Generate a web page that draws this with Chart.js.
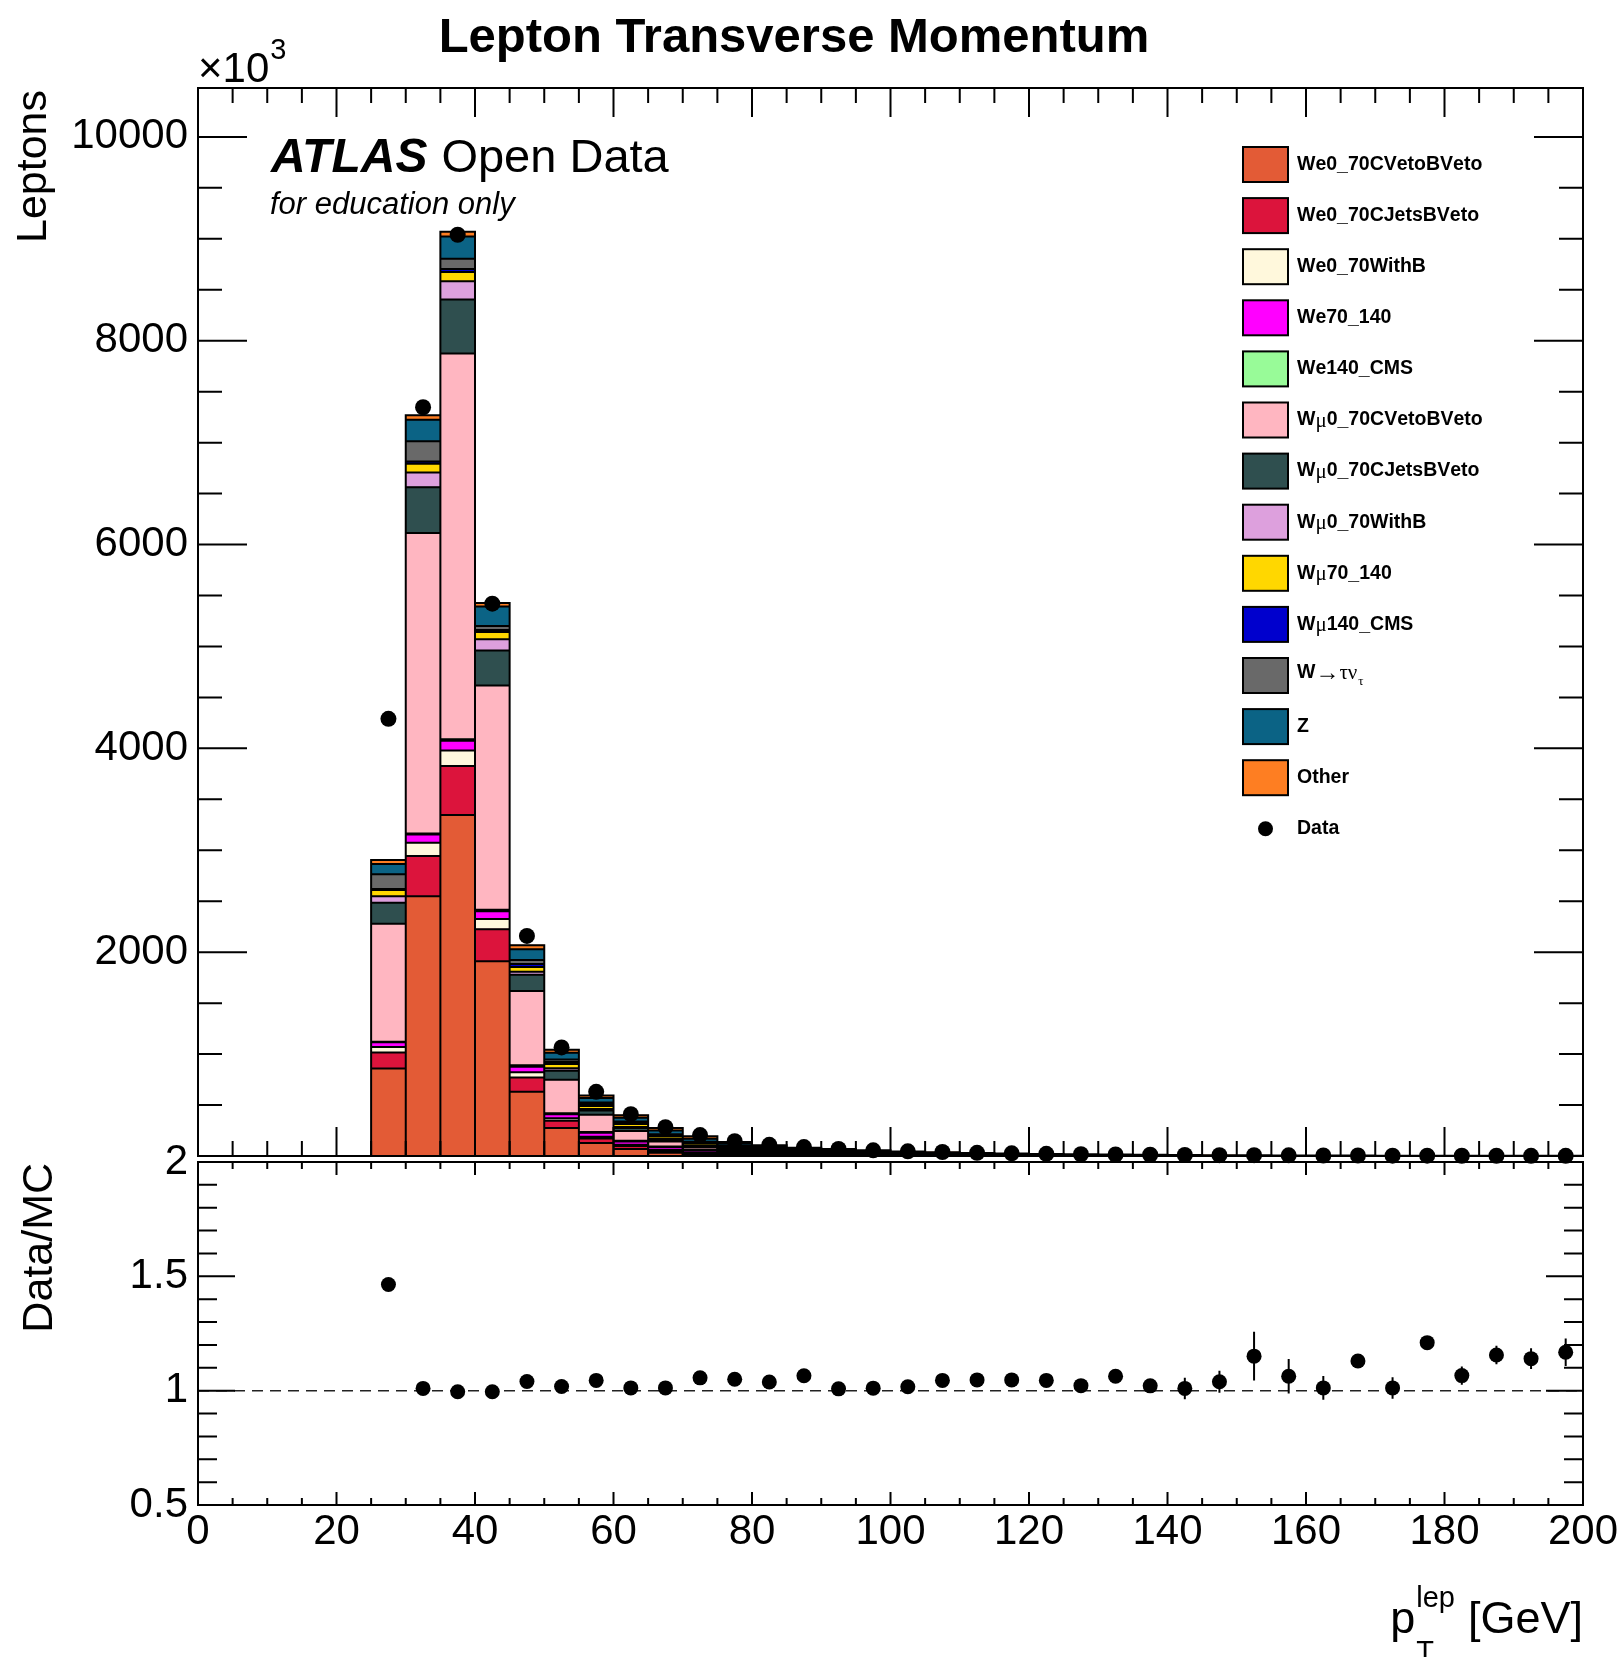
<!DOCTYPE html>
<html>
<head>
<meta charset="utf-8">
<title>Lepton Transverse Momentum</title>
<script src="https://cdn.jsdelivr.net/npm/chart.js@4.4.1/dist/chart.umd.min.js"></script>
<style>
  html, body { margin: 0; padding: 0; background: #ffffff; }
  #page { position: relative; width: 1624px; height: 1657px; overflow: hidden; }
  #page canvas { position: absolute; left: 0; top: 0; }
</style>
</head>
<body>
<div id="page">
  <canvas id="mainPad" width="1624" height="1657"></canvas>
  <canvas id="ratioPad" width="1624" height="1657"></canvas>
</div>
<script>
// ---- bins: 5 GeV wide, 0 to 200 GeV (bin centres) ----
const binCenters = [2.5, 7.5, 12.5, 17.5, 22.5, 27.5, 32.5, 37.5, 42.5, 47.5,
  52.5, 57.5, 62.5, 67.5, 72.5, 77.5, 82.5, 87.5, 92.5, 97.5,
  102.5, 107.5, 112.5, 117.5, 122.5, 127.5, 132.5, 137.5, 142.5, 147.5,
  152.5, 157.5, 162.5, 167.5, 172.5, 177.5, 182.5, 187.5, 192.5, 197.5];

// ---- axis labels ----
const countTicks = [2000, 4000, 6000, 8000, 10000];
const ratioTicks = [0.5, 1, 1.5, 2];
const ptTicks = [0, 20, 40, 60, 80, 100, 120, 140, 160, 180, 200];

// ---- simulated samples (leptons, x10^3), stacked bottom to top ----
const we0_70CVetoBVeto = [0,0,0,0,0, 859,2548,3347,1910,631, 275,127,68,32,16, 9,5,3,2,1.4,
  1,0.7,0.5,0.35,0.25, 0.2,0.15,0.1,0.08,0.06, 0.05,0.04,0.03,0.02,0.02, 0.01,0.01,0.01,0.01,0.01];
const we0_70CJetsBVeto = [0,0,0,0,0, 157,396,480,316,140, 70,45,30,18,10, 6,4,3,2,1.5,
  1.1,0.8,0.6,0.45,0.35, 0.25,0.2,0.15,0.12,0.1, 0.08,0.06,0.05,0.04,0.03, 0.03,0.02,0.02,0.01,0.01];
const we0_70WithB = [0,0,0,0,0, 53,130,153,100,50, 25,18,12,8,5, 3,2,1.5,1,0.8,
  0.6,0.5,0.4,0.3,0.25, 0.2,0.15,0.12,0.1,0.08, 0.07,0.06,0.05,0.04,0.03, 0.02,0.02,0.01,0.01,0.01];
const we70_140 = [0,0,0,0,0, 46,81,95,75,55, 40,38,32,28,24, 20,17,14,11.5,9.4,
  7.6,6.2,4.9,3.9,3.1, 2.5,2,1.6,1.3,1.05, 0.85,0.7,0.57,0.46,0.38, 0.31,0.25,0.2,0.17,0.14];
const we140_CMS = [0,0,0,0,0, 5,10,15,15,15, 10,8,8,7,6, 5,5,4.5,4,3.6,
  3.2,2.8,2.4,2.1,1.8, 1.6,1.4,1.25,1.1,0.98, 0.87,0.78,0.7,0.62,0.56, 0.5,0.44,0.39,0.35,0.31];
const wmu0_70CVetoBVeto = [0,0,0,0,0, 1158,2948,3784,2200,728, 327,170,95,50,25, 13,7,4,2.5,1.7,
  1.2,0.9,0.6,0.45,0.3, 0.22,0.16,0.12,0.09,0.07, 0.05,0.04,0.03,0.02,0.02, 0.01,0.01,0.01,0.01,0.01];
const wmu0_70CJetsBVeto = [0,0,0,0,0, 207,450,530,345,160, 90,40,30,20,12, 8,5,3,2,1.5,
  1.1,0.8,0.6,0.45,0.35, 0.28,0.22,0.17,0.13,0.1, 0.08,0.06,0.05,0.04,0.03, 0.03,0.02,0.02,0.01,0.01];
const wmu0_70WithB = [0,0,0,0,0, 63,143,180,110,30, 25,15,10,7,5, 3,2,1.5,1,0.7,
  0.5,0.4,0.3,0.25,0.2, 0.15,0.12,0.1,0.08,0.06, 0.05,0.04,0.03,0.02,0.02, 0.01,0.01,0.01,0.01,0.01];
const wmu70_140 = [0,0,0,0,0, 63,88,90,70,45, 40,30,28,25,22, 18,15,12,10,8.2,
  6.7,5.5,4.4,3.6,2.9, 2.4,1.95,1.6,1.3,1.05, 0.85,0.7,0.57,0.46,0.38, 0.31,0.25,0.2,0.17,0.14];
const wmu140_CMS = [0,0,0,0,0, 10,20,30,20,30, 20,15,13,11,10, 9,8,7,6,5.2,
  4.6,4,3.5,3.1,2.7, 2.4,2.1,1.85,1.6,1.4, 1.25,1.12,1,0.9,0.8, 0.72,0.64,0.57,0.51,0.46];
const wTauNu = [0,0,0,0,0, 143,200,100,40,40, 25,18,12,8,5, 3,2,1.5,1,0.8,
  0.6,0.5,0.4,0.3,0.25, 0.2,0.15,0.12,0.1,0.08, 0.07,0.06,0.05,0.04,0.03, 0.03,0.02,0.02,0.01,0.01];
const zBoson = [0,0,0,0,0, 102,210,220,190,105, 65,45,38,35,30, 22,18,14.5,13.5,10.8,
  8.8,7.2,5.8,4.9,4, 3.3,2.7,2.25,1.85,1.5, 1.25,1.02,0.85,0.7,0.58, 0.49,0.4,0.34,0.29,0.24];
const otherBkg = [0,0,0,0,0, 39,45,45,35,40, 30,25,25,25,23, 18,15,12.5,12,9.8,
  8.3,7.1,5.6,4.85,4.05, 3.3,2.7,2.32,1.95,1.67, 1.38,1.12,0.92,0.74,0.62, 0.53,0.41,0.35,0.29,0.24];

// ---- observed data (x10^3) ----
const dataCounts = [null,null,null,null,null, 4290,7347,9040,5420,2160, 1065,630,410,282,205,
  145,110,88,69,56, 46,39,31.4,26.2,21.4, 17.4,14.9,12,9.9,8.5, 7.9,6.2,5.0,4.6,3.55, 3.6,2.66,2.5,2.1,1.87];

// ---- Data/MC ratio and its uncertainty ----
const dataOverMC = [null,null,null,null,null, 1.464,1.010,0.995,0.995,1.040, 1.018,1.045,1.012,1.012,1.056,
  1.050,1.038,1.065,1.008,1.011, 1.017,1.045,1.047,1.047,1.045, 1.022,1.063,1.021,1.010,1.039,
  1.151,1.063,1.012,1.130,1.012, 1.210,1.066,1.156,1.140,1.168];
const ratioErr = [null,null,null,null,null, 0.004,0.002,0.002,0.002,0.003, 0.004,0.005,0.006,0.007,0.008,
  0.009,0.010,0.011,0.012,0.013, 0.014,0.016,0.017,0.019,0.020, 0.022,0.024,0.026,0.047,0.048,
  0.107,0.075,0.052,0.020,0.047, 0.025,0.040,0.040,0.045,0.060];

// ---- sample names (legend order = stack order) ----
const sampleNames = ['We0_70CVetoBVeto', 'We0_70CJetsBVeto', 'We0_70WithB', 'We70_140', 'We140_CMS',
  'W\u03bc0_70CVetoBVeto', 'W\u03bc0_70CJetsBVeto', 'W\u03bc0_70WithB', 'W\u03bc70_140', 'W\u03bc140_CMS',
  'W\u2192\u03c4\u03bd', 'Z', 'Other'];
const sampleValues = [we0_70CVetoBVeto, we0_70CJetsBVeto, we0_70WithB, we70_140, we140_CMS,
  wmu0_70CVetoBVeto, wmu0_70CJetsBVeto, wmu0_70WithB, wmu70_140, wmu140_CMS,
  wTauNu, zBoson, otherBkg];
const sampleColors = ['#e35b36', '#dc143c', '#fff8dc', '#ff00ff', '#98fb98',
  '#ffb6c1', '#2f4f4f', '#dda0dd', '#ffd700', '#0000cd',
  '#696969', '#0b6385', '#fe7e22'];

const FONT = '"Liberation Sans", Arial, Helvetica, sans-serif';
const GREEK = '"Liberation Serif", "DejaVu Serif", serif';

// Draws frame plus inward major/minor tick marks on all four sides
const rootFrame = {
  id: 'rootFrame',
  afterDraw(chart, args, o) {
    const ctx = chart.ctx;
    const xs = chart.scales.x, ys = chart.scales.y;
    const a = chart.chartArea;
    ctx.save();
    ctx.strokeStyle = '#000';
    ctx.lineWidth = 2;
    ctx.beginPath();
    const isMajor = (v, m) => Math.abs(v / m - Math.round(v / m)) < 1e-6;
    for (let v = xs.min; v <= xs.max + 1e-9; v += o.xMinor) {
      const px = xs.getPixelForValue(v);
      const len = isMajor(v, o.xMajor) ? o.xMajLen : o.xMinLen;
      ctx.moveTo(px, a.bottom); ctx.lineTo(px, a.bottom - len);
      ctx.moveTo(px, a.top); ctx.lineTo(px, a.top + len);
    }
    for (let v = o.yStart; v <= ys.max + 1e-9; v += o.yMinor) {
      const py = ys.getPixelForValue(v);
      const len = isMajor(v, o.yMajor) ? o.yMajLen : o.yMinLen;
      ctx.moveTo(a.left, py); ctx.lineTo(a.left + len, py);
      ctx.moveTo(a.right, py); ctx.lineTo(a.right - len, py);
    }
    ctx.stroke();
    ctx.strokeRect(a.left, a.top, a.right - a.left, a.bottom - a.top);
    ctx.restore();
  }
};

// Black histogram outlines for every stacked sample, drawn just before the data markers
const histOutline = {
  id: 'histOutline',
  beforeDatasetDraw(chart, args) {
    if (args.meta.type !== 'line') return;
    const ctx = chart.ctx;
    ctx.save();
    ctx.strokeStyle = '#000';
    ctx.lineWidth = 2;
    ctx.beginPath();
    chart.getSortedVisibleDatasetMetas().forEach(meta => {
      if (meta.type !== 'bar') return;
      const ds = chart.data.datasets[meta.index];
      meta.data.forEach((bar, i) => {
        if (!ds.data[i] || !ds.data[i].y) return;
        const p = bar.getProps(['x', 'y', 'base', 'width'], true);
        const l = p.x - p.width / 2, r = p.x + p.width / 2;
        ctx.moveTo(l, p.base); ctx.lineTo(l, p.y); ctx.lineTo(r, p.y); ctx.lineTo(r, p.base);
      });
    });
    ctx.stroke();
    ctx.restore();
  }
};

// Label text with Greek letters / arrow set in a serif face, plus optional subscript
function drawLabel(ctx, text, sub, x, y) {
  ctx.textBaseline = 'middle';
  ctx.textAlign = 'left';
  let cx = x;
  for (const ch of text) {
    const arrow = /[\u2190-\u21ff]/.test(ch);
    const greek = /[\u0370-\u03ff]/.test(ch);
    if (arrow) ctx.font = '24px ' + GREEK;
    else if (greek) ctx.font = '21px ' + GREEK;
    else ctx.font = 'bold 19.5px ' + FONT;
    ctx.fillText(ch, cx, (greek || arrow) ? y + 1 : y);
    cx += ctx.measureText(ch).width;
  }
  if (sub) {
    ctx.font = '13px ' + GREEK;
    ctx.fillText(sub, cx + 1, y + 9);
  }
}

const legendBox = {
  id: 'legendBox',
  afterDraw(chart, args, o) {
    const ctx = chart.ctx;
    ctx.save();
    ctx.fillStyle = '#000';
    const entries = chart.data.datasets.filter(d => d.type === 'bar');
    entries.forEach((ds, k) => {
      const cy = o.top + k * o.pitch;
      ctx.fillStyle = ds.backgroundColor;
      ctx.fillRect(o.boxX, cy - o.boxH / 2, o.boxW, o.boxH);
      ctx.strokeStyle = '#000';
      ctx.lineWidth = 2;
      ctx.strokeRect(o.boxX, cy - o.boxH / 2, o.boxW, o.boxH);
      ctx.fillStyle = '#000';
      drawLabel(ctx, ds.label, ds.labelSub, o.textX, ds.labelSub ? cy - 3 : cy);
    });
    const dataSet = chart.data.datasets.find(d => d.type === 'line');
    const cy = o.top + entries.length * o.pitch;
    ctx.beginPath();
    ctx.arc(o.boxX + o.boxW / 2, cy, 7.5, 0, Math.PI * 2);
    ctx.fill();
    drawLabel(ctx, dataSet.label, null, o.textX, cy);
    ctx.restore();
  }
};

const mainText = {
  id: 'mainText',
  afterDraw(chart) {
    const ctx = chart.ctx;
    const a = chart.chartArea;
    ctx.save();
    ctx.fillStyle = '#000';
    ctx.textBaseline = 'alphabetic';

    ctx.textAlign = 'center';
    ctx.font = 'bold 49px ' + FONT;
    ctx.fillText('Lepton Transverse Momentum', 794, 52);

    ctx.textAlign = 'left';
    ctx.font = '42px ' + FONT;
    ctx.fillText('\u00d710', a.left, 82);
    const w10 = ctx.measureText('\u00d710').width;
    ctx.font = '29px ' + FONT;
    ctx.fillText('3', a.left + w10 + 1, 59);

    ctx.font = 'italic bold 48px ' + FONT;
    ctx.fillText('ATLAS', 271, 172);
    const wAtlas = ctx.measureText('ATLAS').width;
    ctx.font = '47px ' + FONT;
    ctx.fillText('Open Data', 271 + wAtlas + 14, 172);
    ctx.font = 'italic 31px ' + FONT;
    ctx.fillText('for education only', 270, 214);

    ctx.save();
    ctx.translate(46, a.top + 2);
    ctx.rotate(-Math.PI / 2);
    ctx.textAlign = 'right';
    ctx.font = '43px ' + FONT;
    ctx.fillText('Leptons', 0, 0);
    ctx.restore();
    ctx.restore();
  }
};

const ratioDecor = {
  id: 'ratioDecor',
  beforeDatasetsDraw(chart) {
    const ctx = chart.ctx;
    const xs = chart.scales.x, ys = chart.scales.y;
    const a = chart.chartArea;
    ctx.save();
    // reference line at unity
    ctx.strokeStyle = '#222';
    ctx.lineWidth = 1.5;
    ctx.setLineDash([11, 7]);
    const y1 = ys.getPixelForValue(1);
    ctx.beginPath();
    ctx.moveTo(a.left, y1); ctx.lineTo(a.right, y1);
    ctx.stroke();
    ctx.setLineDash([]);
    // uncertainty bars
    ctx.strokeStyle = '#000';
    ctx.lineWidth = 2;
    ctx.beginPath();
    binCenters.forEach((x, i) => {
      if (dataOverMC[i] == null) return;
      const px = xs.getPixelForValue(x);
      ctx.moveTo(px, ys.getPixelForValue(dataOverMC[i] - ratioErr[i]));
      ctx.lineTo(px, ys.getPixelForValue(dataOverMC[i] + ratioErr[i]));
    });
    ctx.stroke();
    ctx.restore();
  },
  afterDraw(chart) {
    const ctx = chart.ctx;
    const a = chart.chartArea;
    ctx.save();
    ctx.fillStyle = '#000';
    ctx.textBaseline = 'alphabetic';
    // y title
    ctx.save();
    ctx.translate(52, a.top + 1);
    ctx.rotate(-Math.PI / 2);
    ctx.textAlign = 'right';
    ctx.font = '43px ' + FONT;
    ctx.fillText('Data/MC', 0, 0);
    ctx.restore();
    // x title: p_T^lep [GeV]
    ctx.textAlign = 'right';
    ctx.font = '45px ' + FONT;
    ctx.fillText('[GeV]', a.right, 1633);
    const wGeV = ctx.measureText('[GeV]').width;
    ctx.font = '29px ' + FONT;
    const wLep = ctx.measureText('lep').width;
    const sx = a.right - wGeV - 13 - wLep;
    ctx.textAlign = 'left';
    ctx.fillText('lep', sx, 1607);
    ctx.fillText('T', sx, 1661);
    ctx.textAlign = 'right';
    ctx.font = '45px ' + FONT;
    ctx.fillText('p', sx - 1, 1633);
    ctx.restore();
  }
};

function build() {
  Chart.defaults.font.family = FONT;
  Chart.defaults.color = '#000';

  const stackSets = sampleNames.map((name, k) => ({
    type: 'bar',
    label: name,
    labelSub: name === 'W\u2192\u03c4\u03bd' ? '\u03c4' : null,
    data: binCenters.map((x, i) => ({ x: x, y: sampleValues[k][i] })),
    backgroundColor: sampleColors[k],
    borderWidth: 0,
    stack: 'mc',
    barPercentage: 1,
    categoryPercentage: 1,
    order: 1
  }));
  const dataPoints = [];
  binCenters.forEach((x, i) => { if (dataCounts[i] != null) dataPoints.push({ x: x, y: dataCounts[i] }); });

  new Chart(document.getElementById('mainPad'), {
    type: 'bar',
    data: {
      datasets: stackSets.concat([{
        type: 'line',
        label: 'Data',
        data: dataPoints,
        showLine: false,
        pointRadius: 8,
        pointBackgroundColor: '#000',
        pointBorderWidth: 0,
        stack: 'data',
        order: 0,
        clip: false
      }])
    },
    options: {
      responsive: false,
      animation: false,
      devicePixelRatio: 1,
      layout: { padding: { left: 0, top: 88, right: 41, bottom: 0 } },
      plugins: {
        legend: { display: false },
        tooltip: { enabled: false },
        rootFrame: { xMajor: 20, xMinor: 5, xMajLen: 29, xMinLen: 15,
                     yStart: 0, yMajor: 2000, yMinor: 500, yMajLen: 49, yMinLen: 24 },
        legendBox: { top: 164.5, pitch: 51.1, boxX: 1243, boxW: 45, boxH: 35, textX: 1297 }
      },
      scales: {
        x: {
          type: 'linear', min: 0, max: 200, offset: false,
          grid: { display: false, drawTicks: false, offset: false }, border: { display: false },
          ticks: { display: false },
          afterFit(s) { s.height = 501; }
        },
        y: {
          stacked: true, min: 0, max: 10480,
          grid: { display: false, drawTicks: false }, border: { display: false },
          afterBuildTicks(s) { s.ticks = countTicks.map(v => ({ value: v })); },
          ticks: {
            padding: 10,
            font: { size: 42, family: FONT }, color: '#000',
            callback: v => String(v)
          },
          afterFit(s) { s.width = 198; }
        }
      }
    },
    plugins: [histOutline, rootFrame, legendBox, mainText]
  });

  const ratioPoints = [];
  binCenters.forEach((x, i) => { if (dataOverMC[i] != null) ratioPoints.push({ x: x, y: dataOverMC[i] }); });

  new Chart(document.getElementById('ratioPad'), {
    type: 'line',
    data: {
      datasets: [{
        label: 'Data/MC',
        data: ratioPoints,
        showLine: false,
        pointRadius: 7.5,
        pointBackgroundColor: '#000',
        pointBorderWidth: 0,
        clip: false
      }]
    },
    options: {
      responsive: false,
      animation: false,
      devicePixelRatio: 1,
      layout: { padding: { left: 0, top: 1162, right: 41, bottom: 0 } },
      plugins: {
        legend: { display: false },
        tooltip: { enabled: false },
        rootFrame: { xMajor: 20, xMinor: 5, xMajLen: 13, xMinLen: 7,
                     yStart: 0.5, yMajor: 0.5, yMinor: 0.1, yMajLen: 37, yMinLen: 19 }
      },
      scales: {
        x: {
          type: 'linear', min: 0, max: 200,
          grid: { display: false, drawTicks: false }, border: { display: false },
          afterBuildTicks(s) { s.ticks = ptTicks.map(v => ({ value: v })); },
          ticks: { padding: 2, autoSkip: false, maxRotation: 0,
                   font: { size: 42, family: FONT }, color: '#000',
                   callback: v => String(v) },
          afterFit(s) { s.height = 152; }
        },
        y: {
          min: 0.5, max: 2,
          grid: { display: false, drawTicks: false }, border: { display: false },
          afterBuildTicks(s) { s.ticks = ratioTicks.map(v => ({ value: v })); },
          ticks: { padding: 10, font: { size: 42, family: FONT }, color: '#000',
                   callback: v => String(v) },
          afterFit(s) { s.width = 198; }
        }
      }
    },
    plugins: [rootFrame, ratioDecor]
  });
}

const fontLoads = [
  '42px "Liberation Sans"', 'bold 42px "Liberation Sans"', 'italic 42px "Liberation Sans"',
  'italic bold 42px "Liberation Sans"', '19px "Liberation Serif"'
].map(f => document.fonts.load(f).catch(() => null));
Promise.all(fontLoads).then(build, build);
</script>
</body>
</html>
